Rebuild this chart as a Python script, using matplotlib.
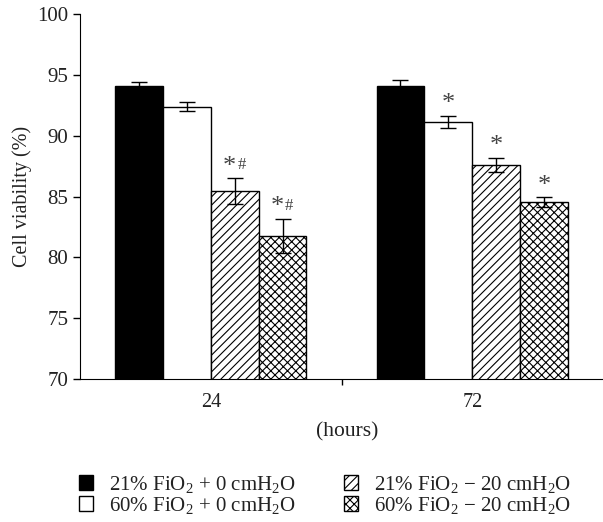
import matplotlib
matplotlib.use("Agg")
import matplotlib.pyplot as plt
import numpy as np
from matplotlib.patches import Patch

plt.rcParams['font.family'] = ['Liberation Serif', 'DejaVu Serif']
plt.rcParams['mathtext.fontset'] = 'custom'
plt.rcParams['mathtext.rm'] = 'Liberation Serif'
plt.rcParams['mathtext.it'] = 'Liberation Serif:italic'
plt.rcParams['hatch.linewidth'] = 0.8
plt.rcParams['text.color'] = '#222222'
plt.rcParams['xtick.labelcolor'] = '#222222'
plt.rcParams['ytick.labelcolor'] = '#222222'
plt.rcParams['axes.labelcolor'] = '#222222'

# data
hours = ['24', '72']
groups = ['21% FiO$_2$ + 0 cmH$_2$O', '60% FiO$_2$ + 0 cmH$_2$O',
          '21% FiO$_2$ \u2212 20 cmH$_2$O', '60% FiO$_2$ \u2212 20 cmH$_2$O']
viability = [[94.1, 94.1],
             [92.4, 91.15],
             [85.45, 87.6],
             [81.75, 84.55]]
errors = [[0.35, 0.45],
          [0.35, 0.5],
          [1.05, 0.6],
          [1.4, 0.4]]
# significance marks
stars = [[False, False],
         [False, True],
         [True, True],
         [True, True]]
hashes = [[False, False],
          [False, False],
          [True, False],
          [True, False]]

faces = ['black', 'white', 'white', 'white']
hatches = [None, None, '////', 'xxxx']

fig = plt.figure(figsize=(6.03, 5.22), dpi=100)
ax = fig.add_axes([0.1327, 0.274, 0.8673, 0.699])

x = np.arange(len(hours))
width = 0.183
offsets = (np.arange(4) - 1.5) * width

for i in range(4):
    ax.bar(x + offsets[i], viability[i], width, bottom=0, color=faces[i],
           edgecolor='black', linewidth=1.0, hatch=hatches[i], zorder=2)
    ax.errorbar(x + offsets[i], viability[i], yerr=errors[i], fmt='none',
                ecolor='black', elinewidth=1.0, capsize=5.5, capthick=1.0, zorder=3)
    for j in range(len(hours)):
        top = viability[i][j] + errors[i][j]
        xc = x[j] + offsets[i]
        if stars[i][j] and hashes[i][j]:
            ax.text(xc + 0.005, top + 0.05, '*', ha='right', va='bottom',
                    fontsize=19, color='#444444')
            ax.text(xc + 0.01, top + 0.45, '#', ha='left', va='bottom',
                    fontsize=12, color='#444444')
        elif stars[i][j]:
            ax.text(xc, top + 0.05, '*', ha='center', va='bottom',
                    fontsize=19, color='#444444')

ax.set_ylim(70, 100)
ax.set_xlim(-0.5, 1.5)
ax.set_yticks([70, 75, 80, 85, 90, 95, 100])
ax.set_xticks(x)
ax.set_xticklabels(hours)
ax.set_xticks([0.5], minor=True)
ax.tick_params(axis='x', which='major', length=0, pad=10, labelsize=14.5)
ax.tick_params(axis='x', which='minor', length=4, width=1.0)
ax.tick_params(axis='y', length=5, width=1.0, labelsize=15)
ax.spines['top'].set_visible(False)
ax.spines['right'].set_visible(False)
ax.set_ylabel('Cell viability (%)', fontsize=14.5, labelpad=4)
ax.set_xlabel('(hours)', fontsize=15.5)
ax.xaxis.set_label_coords(0.51, -0.118)

handles = [Patch(facecolor=faces[i], edgecolor='black', hatch=hatches[i],
                 linewidth=1.0, label=groups[i]) for i in range(4)]
fig.legend(handles=handles, loc='lower left', ncol=2, frameon=False,
           fontsize=15, bbox_to_anchor=(0.1, -0.024), columnspacing=2.3,
           handlelength=0.67, handleheight=0.67, handletextpad=0.77,
           labelspacing=0.0)

fig.savefig('out.png', dpi=100)
